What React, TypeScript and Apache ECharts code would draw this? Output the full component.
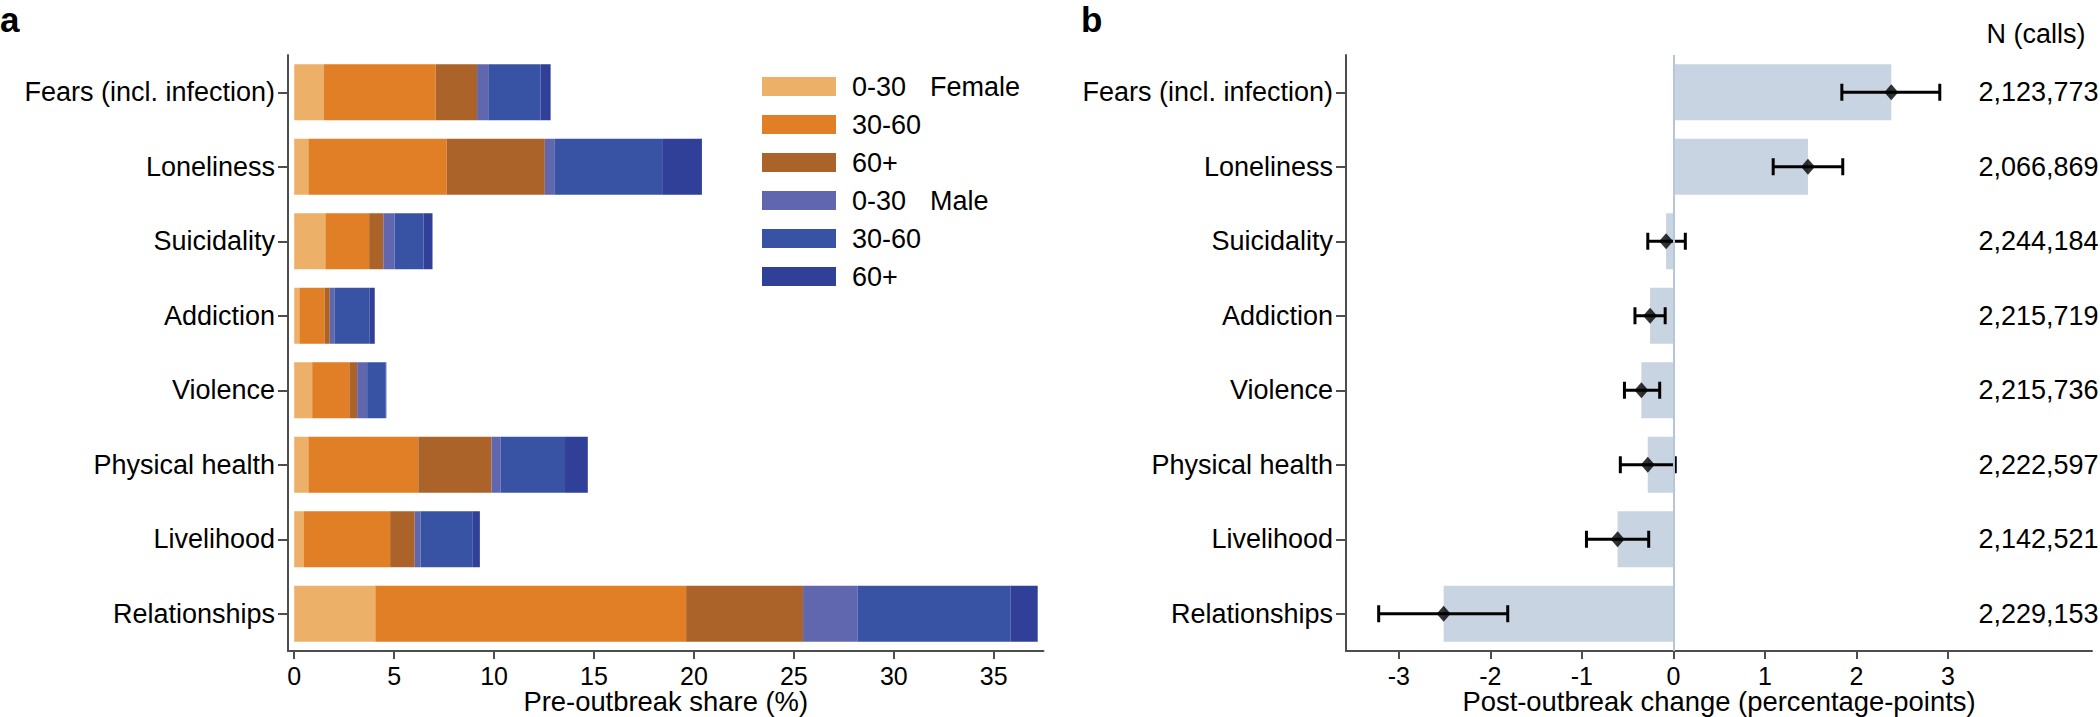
import React, { useEffect, useRef } from "react";
import * as echarts from "echarts";

const categories = [
  "Fears (incl. infection)",
  "Loneliness",
  "Suicidality",
  "Addiction",
  "Violence",
  "Physical health",
  "Livelihood",
  "Relationships",
];

// Pre-outbreak share (%) by sex and age group
const female0to30 = [1.47, 0.71, 1.56, 0.26, 0.9, 0.71, 0.49, 4.06];
const female30to60 = [5.61, 6.92, 2.19, 1.27, 1.86, 5.5, 4.31, 15.55];
const female60plus = [2.07, 4.91, 0.71, 0.25, 0.39, 3.66, 1.23, 5.85];
const male0to30 = [0.56, 0.5, 0.56, 0.23, 0.5, 0.46, 0.29, 2.72];
const male30to60 = [2.61, 5.37, 1.45, 1.77, 0.93, 3.22, 2.59, 7.67];
const male60plus = [0.51, 1.99, 0.45, 0.25, 0.03, 1.14, 0.38, 1.35];

// Post-outbreak change (percentage-points) with confidence interval
const change = [2.38, 1.47, -0.08, -0.255, -0.35, -0.28, -0.61, -2.51];
const ciLow = [1.84, 1.09, -0.28, -0.42, -0.535, -0.58, -0.95, -3.22];
const ciHigh = [2.91, 1.85, 0.13, -0.09, -0.15, 0.02, -0.27, -1.81];

const nCalls = [
  "2,123,773",
  "2,066,869",
  "2,244,184",
  "2,215,719",
  "2,215,736",
  "2,222,597",
  "2,142,521",
  "2,229,153",
];

const shareTicks = [0, 5, 10, 15, 20, 25, 30, 35];
const changeTicks = [-3, -2, -1, 0, 1, 2, 3];

const legendNames = ["F0-30", "F30-60", "F60+", "M0-30", "M30-60", "M60+"];
const legendLabels: Record<string, string> = {
  "F0-30": "{a|0-30}{b|Female}",
  "F30-60": "{a|30-60}",
  "F60+": "{a|60+}",
  "M0-30": "{a|0-30}{b|Male}",
  "M30-60": "{a|30-60}",
  "M60+": "{a|60+}",
};
const segmentColors = ["#EDB068", "#E07F26", "#AC6329", "#6167AE", "#3853A4", "#303F98"];
const segmentData = [female0to30, female30to60, female60plus, male0to30, male30to60, male60plus];

const FONT = "'Liberation Sans', Arial, Helvetica, sans-serif";
const AXIS_COLOR = "#4d4d4d";

export default function App() {
  const ref = useRef<HTMLDivElement>(null);

  useEffect(() => {
    if (!ref.current) return;
    const chart = echarts.init(ref.current, undefined, { renderer: "svg" });

    const catAxisCommon = {
      type: "category",
      data: categories,
      inverse: true,
      axisLine: { show: true, onZero: false, lineStyle: { color: AXIS_COLOR, width: 2 } },
      axisTick: { show: true, alignWithLabel: true, length: 10, lineStyle: { color: AXIS_COLOR, width: 2 } },
      axisLabel: { color: "#000", fontSize: 27, fontFamily: FONT, margin: 13 },
      splitLine: { show: false },
    };

    const valueAxisCommon = {
      type: "value",
      nameLocation: "middle",
      nameGap: 37,
      nameMoveOverlap: false,
      nameTextStyle: { color: "#000", fontSize: 27.4, lineHeight: 27.4, fontFamily: FONT },
      axisLine: { show: true, onZero: false, lineStyle: { color: AXIS_COLOR, width: 2 } },
      splitLine: { show: false },
    };

    const option: any = {
      animation: false,
      backgroundColor: "#fff",
      textStyle: { fontFamily: FONT },
      grid: [
        { left: 288, right: 2100 - 1043.5, top: 55, bottom: 717 - 651, containLabel: false, outerBoundsMode: "none" },
        { left: 1346, right: 2100 - 2092, top: 55, bottom: 717 - 651, containLabel: false, outerBoundsMode: "none" },
      ],
      legend: {
        orient: "vertical",
        left: 762,
        top: 73,
        padding: 0,
        itemWidth: 74,
        itemHeight: 19,
        itemGap: 11,
        icon: "rect",
        selectedMode: false,
        data: legendNames,
        formatter: (name: string) => legendLabels[name],
        textStyle: {
          color: "#000",
          fontSize: 27,
          fontFamily: FONT,
          padding: [0, 0, 0, 11],
          rich: {
            a: { width: 78, fontSize: 27, fontFamily: FONT, color: "#000", lineHeight: 27 },
            b: { fontSize: 27, fontFamily: FONT, color: "#000", lineHeight: 27 },
          },
        },
      },
      xAxis: [
        {
          ...valueAxisCommon,
          gridIndex: 0,
          min: -0.31,
          max: 37.49,
          name: "Pre-outbreak share (%)",
          axisTick: { show: true, length: 8, customValues: shareTicks, lineStyle: { color: AXIS_COLOR, width: 2 } },
          axisLabel: { color: "#000", fontSize: 25, lineHeight: 25, fontFamily: FONT, margin: 12, customValues: shareTicks },
        },
        {
          ...valueAxisCommon,
          gridIndex: 1,
          min: -3.577,
          max: 4.573,
          name: "Post-outbreak change (percentage-points)",
          axisTick: { show: true, length: 8, customValues: changeTicks, lineStyle: { color: AXIS_COLOR, width: 2 } },
          axisLabel: { color: "#000", fontSize: 25, lineHeight: 25, fontFamily: FONT, margin: 12, customValues: changeTicks },
        },
      ],
      yAxis: [
        { ...catAxisCommon, gridIndex: 0 },
        { ...catAxisCommon, gridIndex: 1 },
        {
          type: "category",
          gridIndex: 1,
          data: nCalls,
          inverse: true,
          position: "right",
          offset: -53.5,
          axisLine: { show: false, onZero: false },
          axisTick: { show: false },
          axisLabel: { color: "#000", fontSize: 27, fontFamily: FONT, margin: 0, align: "center" },
          splitLine: { show: false },
        },
      ],
      series: [
        ...segmentData.map((d, i) => ({
          name: legendNames[i],
          type: "bar",
          stack: "share",
          xAxisIndex: 0,
          yAxisIndex: 0,
          barWidth: 56,
          data: d,
          itemStyle: { color: segmentColors[i] },
        })),
        {
          name: "change",
          type: "bar",
          xAxisIndex: 1,
          yAxisIndex: 1,
          barWidth: 56,
          data: change,
          itemStyle: { color: "#C8D4E1" },
          markLine: {
            silent: true,
            symbol: "none",
            label: { show: false },
            lineStyle: { color: "#B5C6D8", width: 2, type: "solid" },
            data: [{ xAxis: 0 }],
          },
          z: 2,
        },
        {
          name: "ci",
          type: "custom",
          xAxisIndex: 1,
          yAxisIndex: 1,
          data: categories.map((_, i) => [ciLow[i], ciHigh[i], i]),
          encode: { x: [0, 1], y: 2 },
          renderItem: (params: any, api: any) => {
            const lo = api.coord([api.value(0), api.value(2)]);
            const hi = api.coord([api.value(1), api.value(2)]);
            const h = 8.5;
            const st = { stroke: "#000", lineWidth: 3 };
            return {
              type: "group",
              children: [
                { type: "line", shape: { x1: lo[0], y1: lo[1], x2: hi[0], y2: hi[1] }, style: st },
                { type: "line", shape: { x1: lo[0], y1: lo[1] - h, x2: lo[0], y2: lo[1] + h }, style: st },
                { type: "line", shape: { x1: hi[0], y1: hi[1] - h, x2: hi[0], y2: hi[1] + h }, style: st },
              ],
            };
          },
          z: 4,
        },
        {
          name: "estimate",
          type: "scatter",
          xAxisIndex: 1,
          yAxisIndex: 1,
          symbol: "diamond",
          symbolSize: [14, 16],
          data: change.map((v, i) => [v, i]),
          itemStyle: { color: "#000" },
          z: 5,
        },
      ],
      graphic: [
        { type: "text", left: 0, top: 2, style: { text: "a", font: `bold 35px ${FONT}`, fill: "#000" } },
        { type: "text", left: 1081, top: 2, style: { text: "b", font: `bold 35px ${FONT}`, fill: "#000" } },
        {
          type: "text",
          x: 2036,
          y: 20,
          style: { text: "N (calls)", font: `27px ${FONT}`, fill: "#000", textAlign: "center", textVerticalAlign: "top" },
        },
      ],
    };

    chart.setOption(option);
    return () => chart.dispose();
  }, []);

  return (
    <div
      ref={ref}
      style={{ position: "fixed", left: 0, top: 0, width: 2100, height: 717, background: "#fff" }}
    />
  );
}
